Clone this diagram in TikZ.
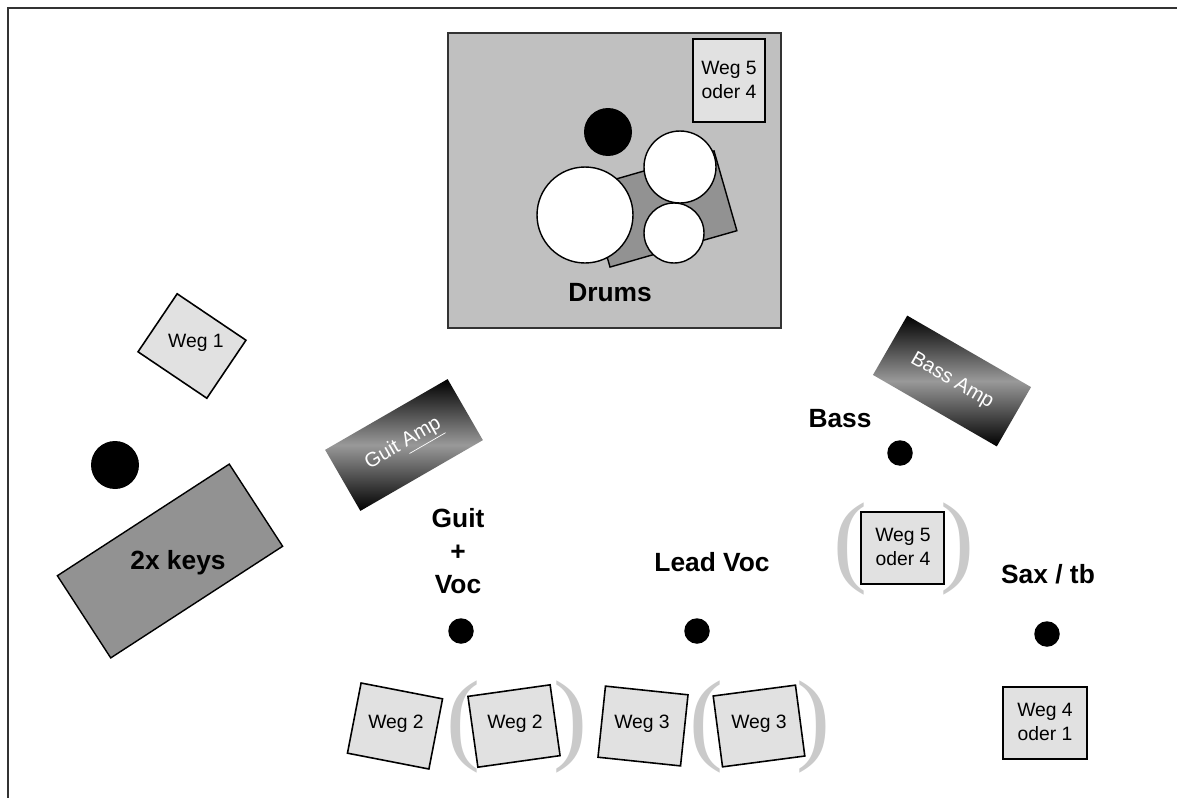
\documentclass[tikz,border=0pt]{standalone}
\usepackage{fontspec}
\setmainfont{Liberation Sans}
\newfontfamily\parenfont{Liberation Serif}
\usepackage{xcolor}
\definecolor{g1}{HTML}{C0C0C0}
\definecolor{g2}{HTML}{929292}
\definecolor{g3}{HTML}{E1E1E1}
\definecolor{g4}{HTML}{CACACA}
\definecolor{g5}{HTML}{999999}

\begin{document}
\begin{tikzpicture}[x=0.02cm,y=-0.02cm,
	wegbox/.style={draw,line width=0.9pt,fill=g3,minimum width=1.66cm,minimum height=1.43cm,inner sep=0},
	wegtxt/.style={font=\fontsize{11}{13.5}\selectfont,align=center,inner sep=0},
	who/.style={font=\fontsize{15}{18.7}\selectfont\bfseries,align=center,inner sep=0},
	dot/.style={circle,fill=black,inner sep=0,minimum size=0.51cm},
	drum/.style={circle,draw,line width=0.8pt,fill=white,inner sep=0},
	amp/.style={top color=black,bottom color=black,middle color=g5,inner sep=0,text=white,font=\fontsize{11.5}{13}\selectfont},
	brak/.style={text=g4,font=\parenfont\fontsize{58}{58}\selectfont,inner sep=0}]
	\useasboundingbox (0,0) rectangle (1177,798);
	\draw [line width=1.5pt,color=black!80] (8,798)--(8,8)--(1177,8);

	% Drums
	\node [draw=black!80,line width=0.9pt,fill=g1,minimum width=6.66cm,minimum height=5.9cm] (drumriser) at (614.5,180.5) {};
	\node [wegbox,minimum width=1.44cm,minimum height=1.66cm] (weg5top) at (729,80.5) {};
	\node [wegtxt] (weg5top-txt) at (729,80) {Weg 5\\oder 4};
	\node [dot,minimum size=0.96cm] (drumdot) at (608,132) {};
	\node [draw,line width=0.8pt,fill=g2,minimum width=2.64cm,minimum height=1.66cm,rotate=16] (rack) at (662,209) {};
	\node [drum,minimum size=1.92cm] (bassdrum) at (585,215) {};
	\node [drum,minimum size=1.44cm] (tom1) at (680,167) {};
	\node [drum,minimum size=1.2cm] (tom2) at (674,233) {};
	\node [who] (drums-txt) at (610,293) {Drums};

	% Keys
	\node [wegbox,minimum width=1.66cm,minimum height=1.40cm,rotate=-34] (weg1) at (192,346) {};
	\node [wegtxt] (weg1-txt) at (196,343) {Weg 1};
	\node [dot,minimum size=0.96cm] (keysdot) at (115,465) {};
	\node [draw,line width=0.8pt,fill=g2,minimum width=4.10cm,minimum height=1.96cm,rotate=33] (keys) at (170,561) {};
	\node [who] (keys-txt) at (178,563) {2x keys};

	% Amps
	\node [amp,minimum width=2.83cm,minimum height=1.41cm,rotate=30] (guitamp) at (404,445) {Guit \underline{Amp}};
	\node [amp,minimum width=2.86cm,minimum height=1.37cm,rotate=-30] (bassamp) at (952,381) {Bass Amp};

	% Guit + Voc
	\node [who] (guit-txt) at (458,551) {Guit\\+\\Voc};
	\node [dot] (guitdot) at (461,631) {};
	\node [wegbox,rotate=-11] (weg2a) at (395,726) {};
	\node [wegtxt] (weg2a-txt) at (396,724) {Weg 2};
	\node [wegbox,rotate=8] (weg2b) at (514,726) {};
	\node [wegtxt] (weg2b-txt) at (515,724) {Weg 2};
	\node [brak] (weg2b-l) at (463,727) {(};
	\node [brak] (weg2b-r) at (570,727) {)};

	% Lead Voc
	\node [who] (lead-txt) at (712,562) {Lead Voc};
	\node [dot] (leaddot) at (697,631) {};
	\node [wegbox,rotate=-6] (weg3a) at (643,726) {};
	\node [wegtxt] (weg3a-txt) at (642,724) {Weg 3};
	\node [wegbox,rotate=7.5] (weg3b) at (759,726) {};
	\node [wegtxt] (weg3b-txt) at (759,724) {Weg 3};
	\node [brak] (weg3b-l) at (706,727) {(};
	\node [brak] (weg3b-r) at (813,727) {)};

	% Bass
	\node [who] (bass-txt) at (840,419) {Bass};
	\node [dot] (bassdot) at (900,453) {};
	\node [wegbox,minimum height=1.44cm] (weg5mid) at (902.5,548) {};
	\node [wegtxt] (weg5mid-txt) at (903,547) {Weg 5\\oder 4};
	\node [brak] (weg5mid-l) at (850,549) {(};
	\node [brak] (weg5mid-r) at (957,549) {)};

	% Sax / tb
	\node [who] (sax-txt) at (1048,574) {Sax / tb};
	\node [dot] (saxdot) at (1047,634) {};
	\node [wegbox,minimum width=1.68cm,minimum height=1.44cm] (weg4) at (1045,723) {};
	\node [wegtxt] (weg4-txt) at (1045,722) {Weg 4\\oder 1};
\end{tikzpicture}
\end{document}
